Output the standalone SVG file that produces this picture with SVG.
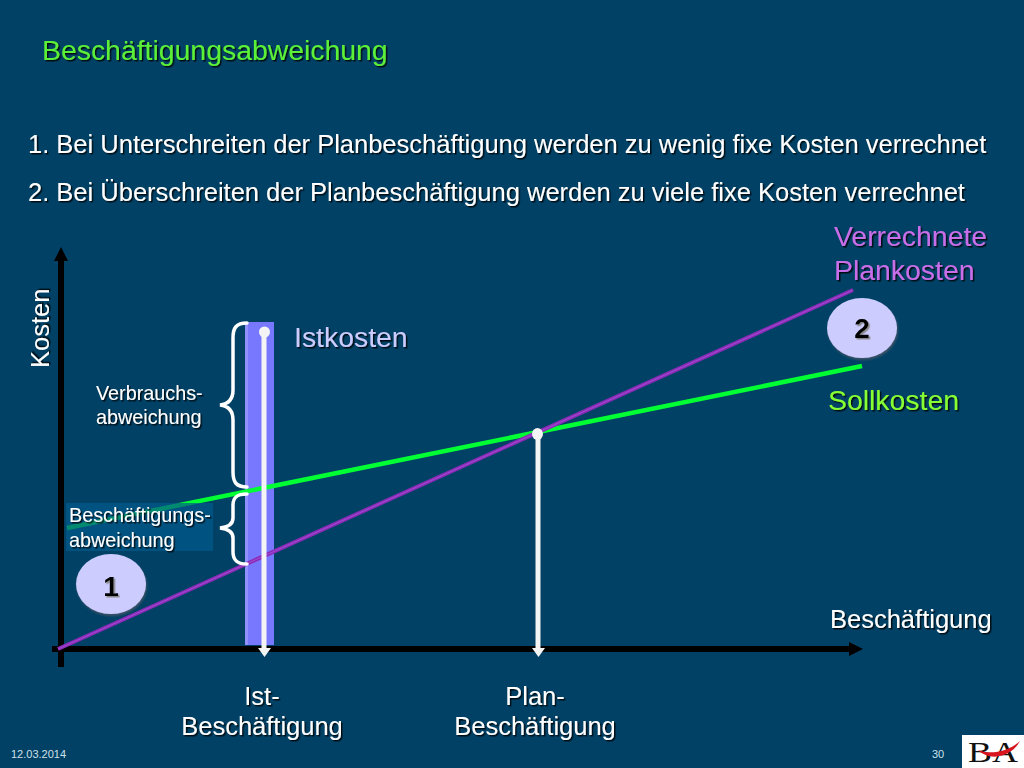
<svg xmlns="http://www.w3.org/2000/svg" width="1024" height="768" viewBox="0 0 1024 768">
<style>
text{font-family:"Liberation Sans",Arial,sans-serif;filter:url(#ts)}
.w{fill:#fff}
.c{text-anchor:middle}
.t25{font-size:25.500px}
.t28{font-size:28.400px}
.t20{font-size:19.800px}
.num{font-size:28px;font-weight:bold;fill:#000;filter:url(#ns)}
.foot{font-size:11px;fill:#cfe0ea;filter:none}
.brace{fill:none;stroke:#fff;stroke-width:3.500;stroke-linecap:round}
.drop{stroke:#f4f4f4;stroke-width:5}
.axis{stroke:#000;stroke-width:6;fill:none}
</style>
<defs>
<filter id="ts" x="-5%" y="-20%" width="110%" height="140%"><feDropShadow dx="1.500" dy="1.500" stdDeviation="0.600" flood-color="#000" flood-opacity="0.800"/></filter>
<filter id="ns" x="-30%" y="-20%" width="160%" height="140%"><feDropShadow dx="1.500" dy="1.500" stdDeviation="0.500" flood-color="#888" flood-opacity="1"/></filter>
<filter id="bs" x="-10%" y="-10%" width="125%" height="125%"><feDropShadow dx="1" dy="2" stdDeviation="0.800" flood-color="#445566" flood-opacity="0.900"/></filter>
</defs>
<rect width="1024" height="768" fill="#004165"/>
<text id="title" class="t28" x="42" y="60" fill="#5cf038">Beschäftigungsabweichung</text>
<g id="intro">
<text class="w t25" x="28" y="153">1. Bei Unterschreiten der Planbeschäftigung werden zu wenig fixe Kosten verrechnet</text>
<text class="w t25" x="28" y="201">2. Bei Überschreiten der Planbeschäftigung werden zu viele fixe Kosten verrechnet</text>
</g>
<g id="bar"><rect x="245" y="322" width="29" height="323" fill="#7878ff"/><rect x="245" y="322" width="3" height="323" fill="#9090ff"/></g>
<g id="connectors">
<path class="axis" d="M61 667V254M52 649H852"/>
<path d="M61 247l-7 14h14zM863 649l-14-7v14z" fill="#000"/>
<path d="M67 528L862 366" stroke="#00ff33" stroke-width="4.500"/>
<path d="M58 649L853 290" stroke="#8a2cb8" stroke-width="4"/>
<path d="M58 649L853 290" stroke="#a24cd0" stroke-width="1"/>
<path class="drop" d="M264 332V650"/>
<path d="M258 648h13l-6.500 9z" fill="#f4f4f4"/>
<circle cx="264.500" cy="332" r="5.500" fill="#f4f4f4"/>
<path class="drop" d="M538 434V650"/>
<path d="M532 648h13l-6.500 9z" fill="#f4f4f4"/>
<ellipse cx="537.500" cy="434" rx="5.500" ry="6" fill="#f4f4f4"/>
<path class="brace" d="M247 323C236 323 233 328 233 338V390C233 398 229 404 220 405C229 406 233 412 233 420V472C233 482 236 487 247 487"/>
<path class="brace" d="M247 494C236 494 233 498 233 505V518C233 523 229 527 220 528C229 529 233 533 233 538V552C233 559 236 564 247 564"/>
</g>
<rect id="box" x="66" y="503" width="147" height="48" fill="#005a8c" opacity=".7"/>
<g id="labels">
<text class="w t25" transform="translate(49 368) rotate(-90)">Kosten</text>
<text class="t20 w" x="96" y="400">Verbrauchs-</text>
<text class="t20 w" x="96" y="424">abweichung</text>
<text class="t20 w" x="69" y="522">Beschäftigungs-</text>
<text class="t20 w" x="69" y="547">abweichung</text>
<text id="istkosten" class="t28" x="294" y="347" fill="#ccccff">Istkosten</text>
<text class="t28" x="834" y="246" fill="#c86ee8">Verrechnete</text>
<text class="t28" x="834" y="280" fill="#c86ee8">Plankosten</text>
<text class="t28" x="828" y="410" fill="#88ff33">Sollkosten</text>
<text class="w t25" x="830" y="628">Beschäftigung</text>
<text class="w t25 c" x="262" y="705">Ist-</text>
<text class="w t25 c" x="262" y="735">Beschäftigung</text>
<text class="w t25 c" x="535" y="705">Plan-</text>
<text class="w t25 c" x="535" y="735">Beschäftigung</text>
</g>
<g id="n1"><ellipse cx="111" cy="584" rx="35" ry="30" fill="#ccccff" filter="url(#bs)"/><text class="c num" x="111" y="596">1</text></g>
<g id="n2"><ellipse cx="862" cy="328" rx="35" ry="30" fill="#ccccff" filter="url(#bs)"/><text class="c num" x="862" y="338">2</text></g>
<g id="footer">
<text class="foot" x="11" y="758">12.03.2014</text>
<text class="foot" x="932" y="758">30</text>
</g>
<g id="logo"><rect x="962" y="735" width="62" height="33" fill="#fff"/>
<text x="968" y="762" style="font-family:'Liberation Serif',serif;font-size:30px;filter:none" fill="#111" textLength="50" lengthAdjust="spacingAndGlyphs">BA</text>
<path d="M978 750C990 755 1008 752 1020 741C1012 757 990 762 978 750Z" fill="#d8141e"/></g>
</svg>
